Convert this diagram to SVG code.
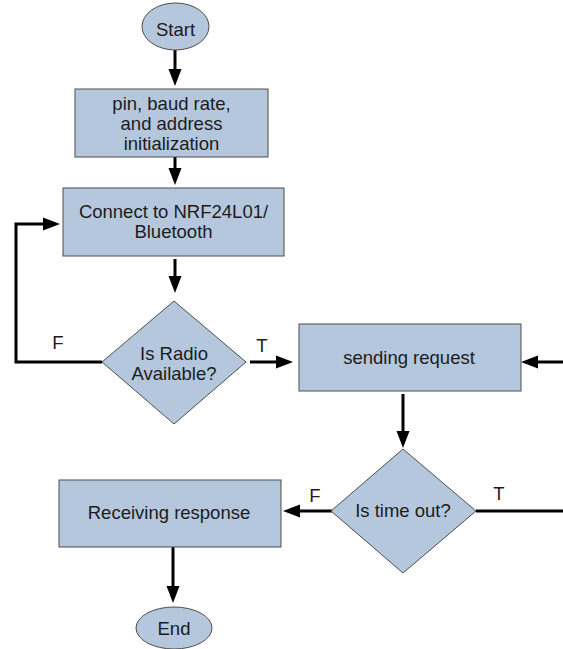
<svg xmlns="http://www.w3.org/2000/svg" width="563" height="649" viewBox="0 0 563 649">
<style>
.n{fill:#b4c7dc;stroke:#4d4d4d;stroke-width:1}
.t{font-family:"Liberation Sans",Arial,sans-serif;font-size:18.5px;fill:#1c1c1c;text-anchor:middle}
.c{fill:none;stroke:#000;stroke-width:3}
</style>
<defs>
<marker id="ah" markerUnits="userSpaceOnUse" markerWidth="18" markerHeight="14" refX="7" refY="6.5" orient="auto" overflow="visible">
<path d="M0,0 L17,6.5 L0,13 z" fill="#000"/>
</marker>
</defs>
<rect width="563" height="649" fill="#fff"/>
<g id="connectors">
<path class="c" d="M175,50 V76" marker-end="url(#ah)"/>
<path class="c" d="M175,157 V175" marker-end="url(#ah)"/>
<path class="c" d="M175,259 V283" marker-end="url(#ah)"/>
<path class="c" d="M102,362 H16 V224 H50" marker-end="url(#ah)"/>
<path class="c" d="M250,362 H283" marker-end="url(#ah)"/>
<path class="c" d="M563,362 H531" marker-end="url(#ah)"/>
<path class="c" d="M403,394 V438" marker-end="url(#ah)"/>
<path class="c" d="M332,511 H293" marker-end="url(#ah)"/>
<path class="c" d="M476,511 H563"/>
<path class="c" d="M173,547 V593" marker-end="url(#ah)"/>
<text class="t" x="58" y="349">F</text>
<text class="t" x="262" y="352">T</text>
<text class="t" x="315" y="502">F</text>
<text class="t" x="499" y="500">T</text>
</g>
<g id="start">
<ellipse class="n" cx="175.5" cy="26.5" rx="33.5" ry="23.5"/>
<text class="t" x="175.5" y="35.5">Start</text>
</g>
<g id="init">
<rect class="n" x="75" y="89" width="193" height="68"/>
<text class="t" x="171.5" y="110">pin, baud rate,</text>
<text class="t" x="171.5" y="130">and address</text>
<text class="t" x="171.5" y="150">initialization</text>
</g>
<g id="connect">
<rect class="n" x="63" y="188" width="221" height="68"/>
<text class="t" x="173.5" y="218">Connect to NRF24L01/</text>
<text class="t" x="173.5" y="238">Bluetooth</text>
</g>
<g id="radio">
<polygon class="n" points="174,301 246,362 174,424 102,362"/>
<text class="t" x="174" y="360">Is Radio</text>
<text class="t" x="174" y="380">Available?</text>
</g>
<g id="sending">
<rect class="n" x="299" y="324" width="222" height="67"/>
<text class="t" x="409" y="364">sending request</text>
</g>
<g id="timeout">
<polygon class="n" points="403,449 476,511 403,573 331,511"/>
<text class="t" x="403" y="517">Is time out?</text>
</g>
<g id="receiving">
<rect class="n" x="59" y="480" width="222" height="67"/>
<text class="t" x="169" y="519">Receiving response</text>
</g>
<g id="end">
<ellipse class="n" cx="174" cy="628" rx="38" ry="21"/>
<text class="t" x="174" y="635">End</text>
</g>
</svg>
